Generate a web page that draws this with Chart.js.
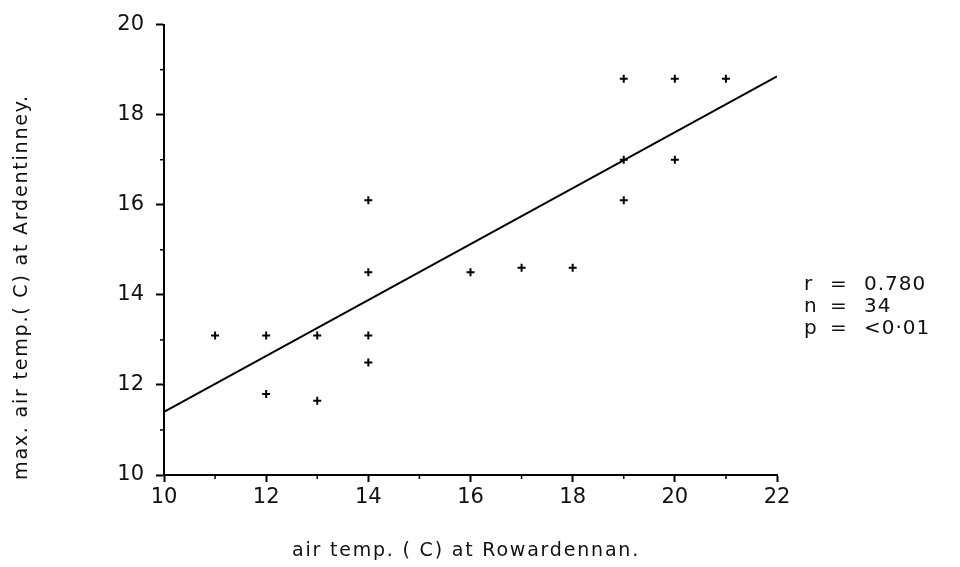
<!DOCTYPE html>
<html>
<head>
<meta charset="utf-8">
<title>Ardentinney vs Rowardennan</title>
<script src="https://cdn.jsdelivr.net/npm/chart.js@4.4.1/dist/chart.umd.min.js"></script>
<style>
  body { margin: 0; background: #fff; }
</style>
</head>
<body>
<canvas id="chart" width="960" height="567"></canvas>
<script>
// air temp at Rowardennan (x) and max air temp at Ardentinney (y)
const rowardennan = [11, 12, 12, 13, 13, 14, 14, 14, 14, 16, 17, 18, 19, 19, 19, 20, 20, 21];
const ardentinney = [13.1, 13.1, 11.8, 13.1, 11.65, 16.1, 14.5, 13.1, 12.5, 14.5, 14.6, 14.6, 18.8, 17.0, 16.1, 18.8, 17.0, 18.8];
// fitted line ends
const fitX = [10, 22];
const fitY = [11.4, 18.85];
const statsLabels = ['r', 'n', 'p'];
const statsValues = ['0.780', '34', '<0·01'];
const xTitle = 'air temp. ( C) at Rowardennan.';
const yTitle = 'max. air temp.( C) at Ardentinney.';

const points = rowardennan.map((x, i) => ({ x: x, y: ardentinney[i] }));
const fit = fitX.map((x, i) => ({ x: x, y: fitY[i] }));

const FONT = 'DejaVu Sans';

// short minor ticks at odd values
const minorTicks = {
  id: 'minorTicks',
  afterDraw(chart) {
    const ctx = chart.ctx;
    const xs = chart.scales.x, ys = chart.scales.y;
    ctx.save();
    ctx.strokeStyle = '#000';
    ctx.lineWidth = 1.5;
    for (let v = 11; v < 20; v += 2) {
      const py = ys.getPixelForValue(v);
      ctx.beginPath();
      ctx.moveTo(xs.left - 4, py);
      ctx.lineTo(xs.left, py);
      ctx.stroke();
    }
    for (let v = 11; v < 22; v += 2) {
      const px = xs.getPixelForValue(v);
      ctx.beginPath();
      ctx.moveTo(px, ys.bottom);
      ctx.lineTo(px, ys.bottom + 4);
      ctx.stroke();
    }
    ctx.restore();
  }
};

// axis titles (wide spacing like the original) and the r / n / p text
const labels = {
  id: 'labels',
  afterDraw(chart) {
    const ctx = chart.ctx;
    ctx.save();
    ctx.fillStyle = '#111';
    ctx.textBaseline = 'middle';
    ctx.font = '19px "' + FONT + '"';
    ctx.letterSpacing = '1.8px';
    ctx.textAlign = 'center';
    ctx.fillText(xTitle, 466, 551);
    ctx.save();
    ctx.translate(22, 287);
    ctx.rotate(-Math.PI / 2);
    ctx.fillText(yTitle, 0, 0);
    ctx.restore();

    ctx.textAlign = 'left';
    ctx.font = '20px "' + FONT + '"';
    ctx.letterSpacing = '1px';
    statsLabels.forEach((lab, i) => {
      const y = 285 + i * 22;
      ctx.fillText(lab, 804, y);
      ctx.fillText('=', 830, y);
      ctx.fillText(statsValues[i], 864, y);
    });
    ctx.restore();
  }
};

new Chart(document.getElementById('chart'), {
  type: 'scatter',
  data: {
    datasets: [
      {
        data: points,
        pointStyle: 'cross',
        pointRadius: 4,
        pointBorderWidth: 2,
        borderColor: '#000',
        backgroundColor: '#000'
      },
      {
        type: 'line',
        data: fit,
        borderColor: '#000',
        borderWidth: 2,
        pointRadius: 0,
        fill: false
      }
    ]
  },
  options: {
    responsive: false,
    animation: false,
    layout: { padding: { top: 24, right: 183, left: 0, bottom: 0 } },
    plugins: { legend: { display: false }, tooltip: { enabled: false } },
    scales: {
      x: {
        type: 'linear',
        min: 10, max: 22,
        border: { color: '#000', width: 2 },
        grid: { drawOnChartArea: false, drawTicks: true, tickLength: 7, tickColor: '#000', tickWidth: 2 },
        ticks: { stepSize: 2, color: '#111', font: { family: FONT, size: 21 }, padding: 3, maxRotation: 0 },
        afterFit(scale) { scale.height = 92; }
      },
      y: {
        min: 10, max: 20,
        border: { color: '#000', width: 2 },
        grid: { drawOnChartArea: false, drawTicks: true, tickLength: 8, tickColor: '#000', tickWidth: 2 },
        ticks: { stepSize: 2, color: '#111', font: { family: FONT, size: 21 }, padding: 12 },
        afterFit(scale) { scale.width = 164; }
      }
    }
  },
  plugins: [minorTicks, labels]
});
</script>
</body>
</html>
